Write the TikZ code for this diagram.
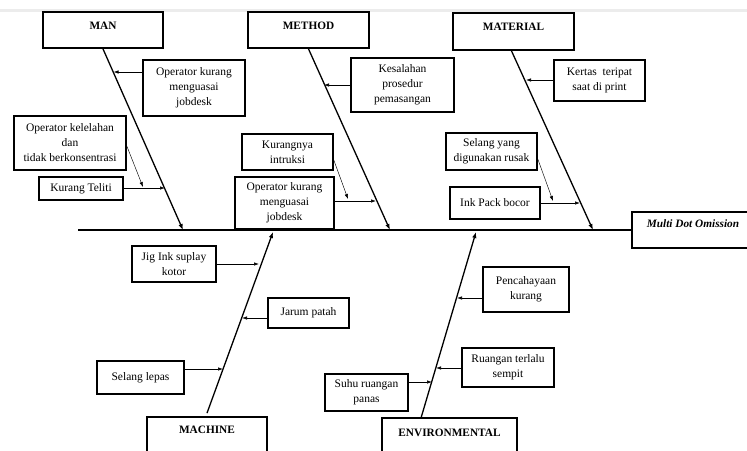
\documentclass[tikz,border=0pt]{standalone}
\usepackage{fontspec}
\setmainfont{Liberation Serif}
\usetikzlibrary{arrows.meta,calc}
\begin{document}
\begin{tikzpicture}[x=1pt,y=-1pt,
 box/.style={draw,line width=1.7pt,inner sep=0pt,align=center,font=\fontsize{11.5}{15}\selectfont},
 catbox/.style={draw,line width=1.8pt,inner sep=0pt},
 cat/.style={font=\fontsize{11.3}{13}\selectfont\bfseries,anchor=north},
 spine/.style={line width=1.3pt,-{Latex[length=6pt,width=4.5pt]}},
 cause/.style={line width=0.7pt,-{Latex[length=5pt,width=3.5pt]}},
 thinarrow/.style={line width=0.45pt,-{Latex[length=5pt,width=3.5pt]}}]
\useasboundingbox (0,0) rectangle (747,450);
\clip (0,0) rectangle (747,450);
\fill[gray!15] (0,8.5) rectangle (747,11.5);

% category boxes
\node[catbox,minimum width=120,minimum height=36,label={[cat,yshift=-7pt]north:MAN}] (man) at (103,30) {};
\node[catbox,minimum width=121,minimum height=36,label={[cat,yshift=-7pt]north:METHOD}] (method) at (308.5,30) {};
\node[catbox,minimum width=121,minimum height=37,label={[cat,yshift=-7.5pt]north:MATERIAL}] (material) at (513.5,31.5) {};
\node[catbox,minimum width=120,minimum height=50,label={[cat,yshift=-6pt]north:MACHINE}] (machine) at (207,442) {};
\node[catbox,minimum width=135,minimum height=50,label={[cat,yshift=-8pt]north:ENVIRONMENTAL}] (env) at (449.5,443) {};
\node[catbox,minimum width=128,minimum height=36,label={[cat,font=\fontsize{11.3}{13}\selectfont\bfseries\itshape,yshift=-5.5pt,xshift=-3pt]north:Multi Dot Omission}] (effect) at (696,230) {};

% main line
\coordinate (tail) at (78,230);
\draw[line width=1.2pt] (tail) -- (effect.west);

% spines
\coordinate (manE) at (183,230);
\coordinate (methodE) at (390,230);
\coordinate (materialE) at (593,230);
\coordinate (machineE) at (273,232);
\coordinate (envS) at (421,418);
\coordinate (envE) at (476,232);
\draw[spine] (man.south) -- (manE);
\draw[spine] (method.south) -- (methodE);
\draw[spine] ($(material.south)+(-2,0)$) -- (materialE);
\draw[spine] ($(machine.north)+(0,-3)$) -- (machineE);
\draw[spine] (envS) -- (envE);

% MAN causes
\node[box,minimum width=102,minimum height=56] (manA) at (194,88) {Operator kurang\\menguasai\\jobdesk};
\node[box,minimum width=112,minimum height=54] (manB) at (70,143) {Operator kelelahan\\dan\\tidak berkonsentrasi};
\node[box,minimum width=84,minimum height=23] (manC) at (81,188.5) {Kurang Teliti};
\coordinate (manAe) at (113.5,72);
\coordinate (manCe) at (165,188);
\coordinate (manBe) at (143,187);
\draw[cause] (manA.west |- manAe) -- (manAe);
\draw[cause] (manC.east |- manCe) -- (manCe);
\draw[thinarrow] ($(manB.north east)+(0,31)$) -- (manBe);

% METHOD causes
\node[box,minimum width=103,minimum height=54] (metA) at (402.5,85) {Kesalahan\\prosedur\\pemasangan};
\node[box,minimum width=91,minimum height=36] (metB) at (287.5,152) {Kurangnya\\intruksi};
\node[box,minimum width=99,minimum height=52] (metC) at (284.5,203) {Operator kurang\\menguasai\\jobdesk};
\coordinate (metAe) at (324,85);
\coordinate (metCe) at (376,201);
\coordinate (metBe) at (348,199);
\draw[cause] (metA.west |- metAe) -- (metAe);
\draw[cause] (metC.east |- metCe) -- (metCe);
\draw[thinarrow] ($(metB.north east)+(0,27)$) -- (metBe);

% MATERIAL causes
\node[box,minimum width=91,minimum height=41] (matA) at (599.5,80.5) {Kertas\ \ teripat\\saat di print};
\node[box,minimum width=91,minimum height=37] (matB) at (491.5,151.5) {Selang yang\\digunakan rusak};
\node[box,minimum width=90,minimum height=32] (matC) at (495,203) {Ink Pack bocor};
\coordinate (matAe) at (526,80);
\coordinate (matCe) at (580,203);
\coordinate (matBe) at (553,201);
\draw[cause] (matA.west |- matAe) -- (matAe);
\draw[cause] (matC.east |- matCe) -- (matCe);
\draw[thinarrow] ($(matB.north east)+(0,27)$) -- (matBe);

% MACHINE causes
\node[box,minimum width=84,minimum height=36] (macA) at (174,264) {Jig Ink suplay\\kotor};
\node[box,minimum width=81,minimum height=30] (macB) at (308.5,313) {Jarum patah};
\node[box,minimum width=87,minimum height=33] (macC) at (140.5,377.5) {Selang lepas};
\coordinate (macAe) at (259,264);
\coordinate (macBe) at (242,318);
\coordinate (macCe) at (223,369);
\draw[cause] (macA.east |- macAe) -- (macAe);
\draw[cause] (macB.west |- macBe) -- (macBe);
\draw[cause] (macC.east |- macCe) -- (macCe);

% ENVIRONMENTAL causes
\node[box,minimum width=86,minimum height=45] (envA) at (526,289.5) {Pencahayaan\\kurang};
\node[box,minimum width=92,minimum height=39] (envB) at (508,367.5) {Ruangan terlalu\\sempit};
\node[box,minimum width=83,minimum height=37] (envC) at (366.5,392.5) {Suhu ruangan\\panas};
\coordinate (envAe) at (457,298);
\coordinate (envBe) at (436,368);
\coordinate (envCe) at (432,382);
\draw[cause] (envA.west |- envAe) -- (envAe);
\draw[cause] (envB.west |- envBe) -- (envBe);
\draw[cause] (envC.east |- envCe) -- (envCe);
\end{tikzpicture}
\end{document}
